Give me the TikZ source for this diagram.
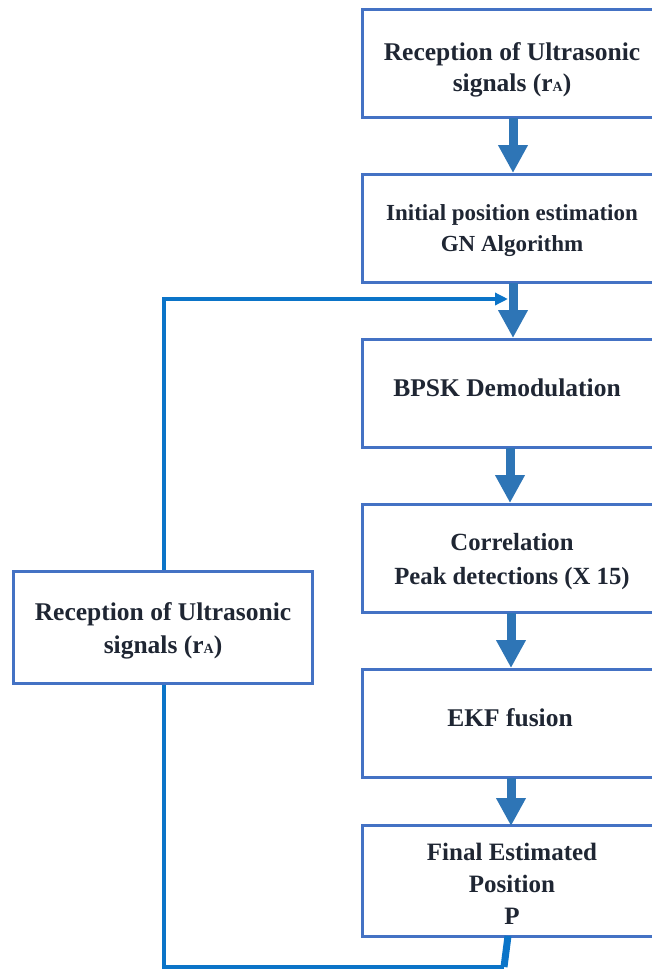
\documentclass[tikz,border=0pt]{standalone}
\usepackage{fontspec}
\setmainfont{Liberation Serif}[BoldFont={Liberation Serif Bold}]
\usetikzlibrary{arrows.meta}
\definecolor{boxblue}{HTML}{4472C4}
\definecolor{arrblue}{HTML}{2E75B6}
\definecolor{lineblue}{HTML}{0B74C8}
\definecolor{txt}{HTML}{1F2633}
\tikzset{
  stepbox/.style={draw=boxblue, line width=3pt, rectangle, minimum width=300pt, minimum height=108pt, inner sep=0pt},
  steptext/.style={align=center, font=\fontsize{25.5}{31}\selectfont\bfseries, text=txt, inner sep=0pt},
  bigarrow/.style={draw=arrblue, line width=9pt, -{Triangle[width=28pt,length=28pt]}, shorten >=-1pt},
  fbline/.style={draw=lineblue, line width=4pt},
}
\newcommand{\rA}{r{\fontsize{14}{14}\selectfont A}}
\begin{document}
\begin{tikzpicture}[x=1pt,y=-1pt]
\useasboundingbox (0,0) rectangle (652,971);
\clip (0,0) rectangle (652,971);
% boxes
\node[stepbox] (b1) at (512,64) {};
\node[stepbox] (b2) at (512,228) {};
\node[stepbox] (b3) at (512,393) {};
\node[stepbox] (b4) at (512,558) {};
\node[stepbox] (b5) at (512,723) {};
\node[stepbox, minimum height=111pt] (b6) at (512,881) {};
\node[stepbox, minimum width=299pt, minimum height=112pt] (lb) at (163,627) {};
% texts
\node[steptext] (t1) at (512,70) {Reception of Ultrasonic\\signals (\rA)};
\node[steptext, font=\fontsize{23}{31}\selectfont\bfseries] (t2) at (512,231) {Initial position estimation\\GN Algorithm};
\node[steptext] (t3) at (507,388) {BPSK Demodulation};
\node[steptext, font=\fontsize{24.7}{34}\selectfont\bfseries] (t4) at (512,562) {Correlation\\Peak detections (X 15)};
\node[steptext] (t5) at (510,718) {EKF fusion};
\node[steptext, font=\fontsize{25}{32}\selectfont\bfseries] (t6) at (512,884) {Final Estimated\\Position\\P};
\node[steptext, font=\fontsize{25.5}{33}\selectfont\bfseries] (tl) at (163,630.5) {Reception of Ultrasonic\\signals (\rA)};
% main arrows
\coordinate (a1s) at (513,118); \coordinate (a1e) at (513,172);
\coordinate (a2s) at (513,283); \coordinate (a2e) at (513,337);
\coordinate (a3s) at (510,448); \coordinate (a3e) at (510,502);
\coordinate (a4s) at (511,613); \coordinate (a4e) at (511,667);
\coordinate (a5s) at (511,778); \coordinate (a5e) at (511,825);
\draw[bigarrow] (a1s) -- (a1e);
\draw[bigarrow] (a2s) -- (a2e);
\draw[bigarrow] (a3s) -- (a3e);
\draw[bigarrow] (a4s) -- (a4e);
\draw[bigarrow] (a5s) -- (a5e);
% feedback loop
\coordinate (fb0) at (508,936);
\coordinate (fb1) at (504,967);
\coordinate (fb2) at (164,967);
\coordinate (fb3) at (164,299);
\coordinate (fb4) at (508,299);
\draw[draw=lineblue, line width=7pt] (fb0) -- (fb1);
\draw[fbline] (fb1) -- (fb2) -- (lb.south -| fb2);
\draw[fbline, -{Triangle[width=12pt,length=13pt]}] (lb.north -| fb3) -- (fb3) -- (fb4);
\end{tikzpicture}
\end{document}
